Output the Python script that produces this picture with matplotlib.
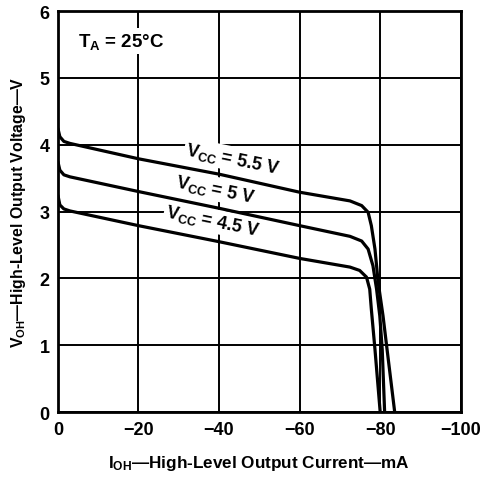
import matplotlib
matplotlib.use("Agg")
import matplotlib.pyplot as plt

plt.rcParams["font.family"] = ["Liberation Sans", "DejaVu Sans"]
plt.rcParams["font.weight"] = "bold"
plt.rcParams["axes.labelweight"] = "bold"
plt.rcParams["mathtext.fontset"] = "custom"
plt.rcParams["mathtext.rm"] = "Liberation Sans:bold"
plt.rcParams["mathtext.it"] = "Liberation Sans:bold"
plt.rcParams["mathtext.bf"] = "Liberation Sans:bold"
plt.rcParams["mathtext.default"] = "rm"

# ---------- data ----------
i_55 = [0, -0.5, -1.5, -3, -20, -40, -60, -72.5, -75.4, -77.0, -77.8, -78.7, -79.5, -80.7, -81.7, -83.6]
v_55 = [4.25, 4.12, 4.05, 4.02, 3.79, 3.56, 3.29, 3.16, 3.09, 2.99, 2.79, 2.44, 1.94, 1.44, 0.94, 0.0]

i_50 = [0, -0.5, -1.5, -3, -20, -40, -60, -72.5, -75.4, -77.0, -78.2, -79.1, -79.9, -80.5, -81.1]
v_50 = [3.75, 3.62, 3.55, 3.52, 3.30, 3.05, 2.79, 2.63, 2.56, 2.44, 2.19, 1.84, 1.44, 0.94, 0.0]

i_45 = [0, -0.5, -1.5, -3, -20, -40, -60, -72.5, -74.9, -76.6, -77.4, -77.8, -78.7, -80.0]
v_45 = [3.25, 3.10, 3.04, 3.01, 2.79, 2.55, 2.30, 2.17, 2.12, 2.02, 1.84, 1.54, 0.94, 0.0]

curve_labels = ["V$_{CC}$ = 5.5 V", "V$_{CC}$ = 5 V", "V$_{CC}$ = 4.5 V"]
label_pos = [(-43.5, 3.79), (-39.0, 3.34), (-38.5, 2.86)]

x_ticks = [0, -20, -40, -60, -80, -100]
y_ticks = [0, 1, 2, 3, 4, 5, 6]

# ---------- plot ----------
fig = plt.figure(figsize=(4.82, 4.81), dpi=100)
ax = fig.add_axes([0.120, 0.141, 0.836, 0.834])

for xs, ys in [(i_55, v_55), (i_50, v_50), (i_45, v_45)]:
    ax.plot(xs, ys, color="black", lw=2.3, zorder=4,
            solid_joinstyle="round", solid_capstyle="butt")

ax.set_xlim(0, -100)
ax.set_ylim(0, 6)
ax.set_xticks(x_ticks)
ax.set_yticks(y_ticks)
ax.set_xticklabels(["0" if t == 0 else f"\u2212{abs(t)}" for t in x_ticks])
ax.tick_params(length=0, labelsize=13, pad=6)
ax.grid(True, color="black", lw=1.4)
ax.set_axisbelow(True)
for s in ax.spines.values():
    s.set_linewidth(2)

for txt, (x, y) in zip(curve_labels, label_pos):
    ax.text(x, y, txt, fontsize=13, rotation=-11.5, ha="center", va="center",
            zorder=3, bbox=dict(facecolor="white", edgecolor="none", pad=1.5))

ax.text(-5, 5.55, "T$_A$ = 25°C", fontsize=13.5, ha="left", va="center", zorder=3,
        bbox=dict(facecolor="white", edgecolor="none", pad=2))

ax.set_xlabel("I$_{OH}$\u2014High-Level Output Current\u2014mA", fontsize=12.3,
              fontweight="bold", labelpad=11)
ax.set_ylabel("V$_{OH}$\u2014High-Level Output Voltage\u2014V", fontsize=11.4,
              fontweight="bold", labelpad=8)

fig.savefig("out.png", dpi=100)
